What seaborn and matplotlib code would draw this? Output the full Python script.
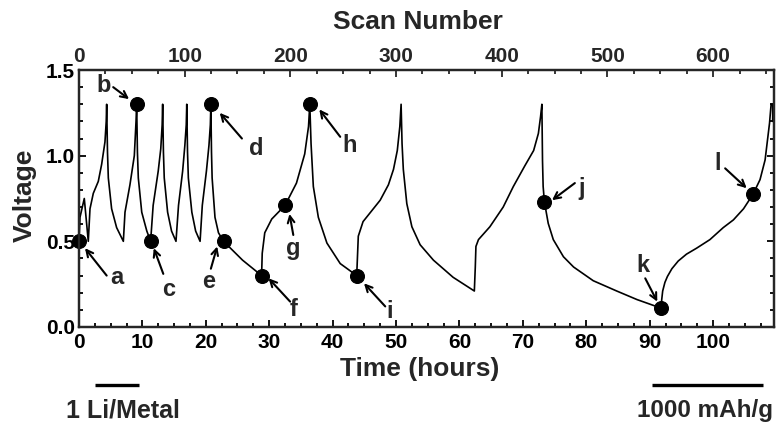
import matplotlib
matplotlib.use('Agg')
import matplotlib.pyplot as plt
import seaborn as sns
import pandas as pd
from matplotlib.ticker import MultipleLocator

# ---------------- data ----------------
time_h = [0.0, 0.16, 0.84, 1.37, 1.47, 1.74, 2.26, 3.05, 3.58, 4.10, 4.30, 4.37,
          4.50, 4.63, 5.15, 5.94, 7.00, 7.26, 8.04, 8.73, 9.00, 9.10,
          9.22, 9.36, 9.90, 10.70, 11.30, 11.70, 12.50, 12.90, 13.12, 13.20,
          13.32, 13.45, 13.98, 14.60, 15.30, 15.70, 16.35, 16.70, 16.92, 17.00,
          17.12, 17.25, 17.80, 18.40, 19.10, 19.45, 20.10, 20.50, 20.72, 20.80,
          20.90, 21.00, 21.45, 22.00, 22.80, 25.80, 28.80, 28.90, 29.30, 30.40,
          31.70, 32.50, 34.30, 35.60, 36.20, 36.40, 36.60, 36.96, 37.75,
          39.10, 41.20, 43.80, 43.90, 44.05, 44.80, 46.20, 47.50, 48.80,
          49.60, 50.20, 50.60, 50.80, 50.95, 51.15, 51.70, 52.50, 53.80,
          55.90, 59.00, 62.35, 62.50, 62.60, 63.00, 64.80, 66.90, 68.50,
          70.30, 71.70, 72.45, 72.80, 73.00, 73.10, 73.20, 73.40, 74.00,
          74.80, 76.40, 78.00, 81.10, 84.80, 88.00, 91.80, 91.90, 92.05,
          92.40, 92.80, 93.50, 94.50, 95.80, 97.40, 99.50, 101.60, 103.20,
          104.80, 106.30, 107.40, 108.20, 108.90, 109.15, 109.40, 109.40]
voltage = [0.50, 0.64, 0.75, 0.54, 0.50, 0.69, 0.78, 0.85, 0.95, 1.08, 1.20, 1.30,
           1.02, 0.87, 0.69, 0.58, 0.50, 0.67, 0.83, 1.00, 1.20, 1.30,
           1.02, 0.87, 0.67, 0.56, 0.50, 0.71, 0.91, 1.04, 1.18, 1.30,
           1.02, 0.87, 0.67, 0.56, 0.50, 0.71, 0.91, 1.06, 1.18, 1.30,
           1.02, 0.87, 0.67, 0.56, 0.50, 0.71, 0.91, 1.06, 1.18, 1.30,
           1.02, 0.87, 0.64, 0.55, 0.50, 0.39, 0.30, 0.43, 0.55, 0.63,
           0.68, 0.71, 0.84, 1.01, 1.17, 1.30, 1.07, 0.82, 0.64,
           0.49, 0.37, 0.30, 0.39, 0.53, 0.615, 0.68, 0.74, 0.83,
           0.92, 1.03, 1.17, 1.30, 1.07, 0.92, 0.72, 0.585, 0.48,
           0.39, 0.29, 0.21, 0.35, 0.47, 0.51, 0.585, 0.70, 0.82,
           0.94, 1.03, 1.13, 1.23, 1.30, 0.97, 0.82, 0.73, 0.605,
           0.51, 0.41, 0.35, 0.27, 0.21, 0.16, 0.11, 0.16, 0.21,
           0.26, 0.295, 0.34, 0.385, 0.425, 0.46, 0.51, 0.58, 0.625,
           0.69, 0.775, 0.86, 0.975, 1.19, 1.30, 1.30, 1.20]

marker_labels = ['a', 'b', 'c', 'd', 'e', 'f', 'g', 'h', 'i', 'j', 'k', 'l']
marker_time = [0.0, 9.1, 11.3, 20.8, 22.8, 28.8, 32.5, 36.4, 43.8, 73.4, 91.8, 106.3]
marker_voltage = [0.50, 1.30, 0.50, 1.30, 0.50, 0.30, 0.71, 1.30, 0.30, 0.73, 0.11, 0.775]

x_ticks = [0, 10, 20, 30, 40, 50, 60, 70, 80, 90, 100]
y_ticks = [0.0, 0.5, 1.0, 1.5]
scan_ticks = [0, 100, 200, 300, 400, 500, 600]
scans_per_hour = 6.0

# label text position, arrow tail, arrow head (data coordinates)
label_pos = {
    'a': ((6.0, 0.286), (4.37, 0.30), (0.95, 0.46)),
    'b': ((3.94, 1.407), (5.4, 1.40), (7.9, 1.33)),
    'c': ((14.1, 0.216), (13.3, 0.31), (11.8, 0.46)),
    'd': ((27.9, 1.043), (25.7, 1.10), (22.2, 1.25)),
    'e': ((20.4, 0.265), (20.8, 0.34), (21.8, 0.47)),
    'f': ((33.8, 0.10), (33.3, 0.148), (29.9, 0.284)),
    'g': ((33.8, 0.46), (33.8, 0.537), (33.2, 0.66)),
    'h': ((42.7, 1.062), (41.2, 1.11), (37.9, 1.27)),
    'i': ((49.05, 0.09), (48.3, 0.12), (44.95, 0.255)),
    'j': ((79.3, 0.81), (78.2, 0.84), (74.6, 0.74)),
    'k': ((89.0, 0.36), (89.3, 0.284), (91.2, 0.148)),
    'l': ((100.7, 0.955), (101.9, 0.926), (105.3, 0.81)),
}

# ---------------- plotting ----------------
sns.set_theme(style='ticks')
plt.rcParams['font.family'] = ['Liberation Sans', 'DejaVu Sans']
plt.rcParams['font.weight'] = 'bold'
plt.rcParams['axes.labelweight'] = 'bold'

fig = plt.figure(figsize=(7.81, 4.23), dpi=100)
ax = fig.add_axes([0.1011, 0.2270, 0.8899, 0.6075])

df = pd.DataFrame({'Time': time_h, 'Voltage': voltage})
sns.lineplot(data=df, x='Time', y='Voltage', sort=False, estimator=None,
             color='black', lw=1.2, ax=ax)
mk = pd.DataFrame({'t': marker_time, 'v': marker_voltage})
sns.scatterplot(data=mk, x='t', y='v', color='black', s=100,
                edgecolor='black', zorder=5, ax=ax, clip_on=False)

for lab in marker_labels:
    (tx, ty), tail, head = label_pos[lab]
    ax.text(tx, ty, lab, fontsize=17, fontweight='bold', ha='center', va='center')
    ax.annotate('', xy=head, xytext=tail,
                arrowprops=dict(arrowstyle='->', lw=1.5, color='black',
                                mutation_scale=12, shrinkA=0, shrinkB=0))

ax.set_xlim(0, 109.6)
ax.set_ylim(0, 1.5)
ax.set_xticks(x_ticks)
ax.set_yticks(y_ticks)
ax.set_xticklabels([str(t) for t in x_ticks])
ax.set_yticklabels([f'{t:.1f}' for t in y_ticks])
ax.xaxis.set_minor_locator(MultipleLocator(2.5))
ax.yaxis.set_minor_locator(MultipleLocator(0.1))
ax.tick_params(axis='both', which='both', direction='in', width=1.3, colors='black',
               labelsize=15, top=False, right=True)
ax.tick_params(which='major', length=5)
ax.tick_params(which='minor', length=3)
ax.tick_params(axis='x', pad=4)
ax.tick_params(axis='y', pad=3)
for lbl in ax.get_xticklabels() + ax.get_yticklabels():
    lbl.set_fontweight('bold')
for s in ax.spines.values():
    s.set_linewidth(1.6)
    s.set_color('black')

ax.set_xlabel('Time (hours)', fontsize=19, fontweight='bold')
ax.xaxis.set_label_coords(0.49, -0.115)
ax.set_ylabel('Voltage', fontsize=19, fontweight='bold')
ax.yaxis.set_label_coords(-0.06, 0.514)

ax2 = ax.twiny()
ax2.set_xlim(0, 109.6 * scans_per_hour)
ax2.set_xticks(scan_ticks)
ax2.set_xticklabels([str(t) for t in scan_ticks])
ax2.xaxis.set_minor_locator(MultipleLocator(25))
ax2.tick_params(axis='x', which='both', direction='in', width=1.3, labelsize=15, pad=3)
ax2.tick_params(which='major', length=5)
ax2.tick_params(which='minor', length=3)
for lbl in ax2.get_xticklabels():
    lbl.set_fontweight('bold')
for s in ax2.spines.values():
    s.set_linewidth(1.6)
ax2.set_xlabel('Scan Number', fontsize=19, fontweight='bold')
ax2.xaxis.set_label_coords(0.488, 1.158)

# scale bars
ax.plot([2.5, 9.5], [-0.34, -0.34], color='black', lw=2.4, clip_on=False,
        solid_capstyle='butt')
ax.plot([90.3, 107.9], [-0.34, -0.34], color='black', lw=2.4, clip_on=False,
        solid_capstyle='butt')
ax.text(6.9, -0.485, '1 Li/Metal', fontsize=18, fontweight='bold',
        ha='center', va='center')
ax.text(98.8, -0.485, '1000 mAh/g', fontsize=17.5, fontweight='bold',
        ha='center', va='center')

fig.savefig('out.png', dpi=100)
